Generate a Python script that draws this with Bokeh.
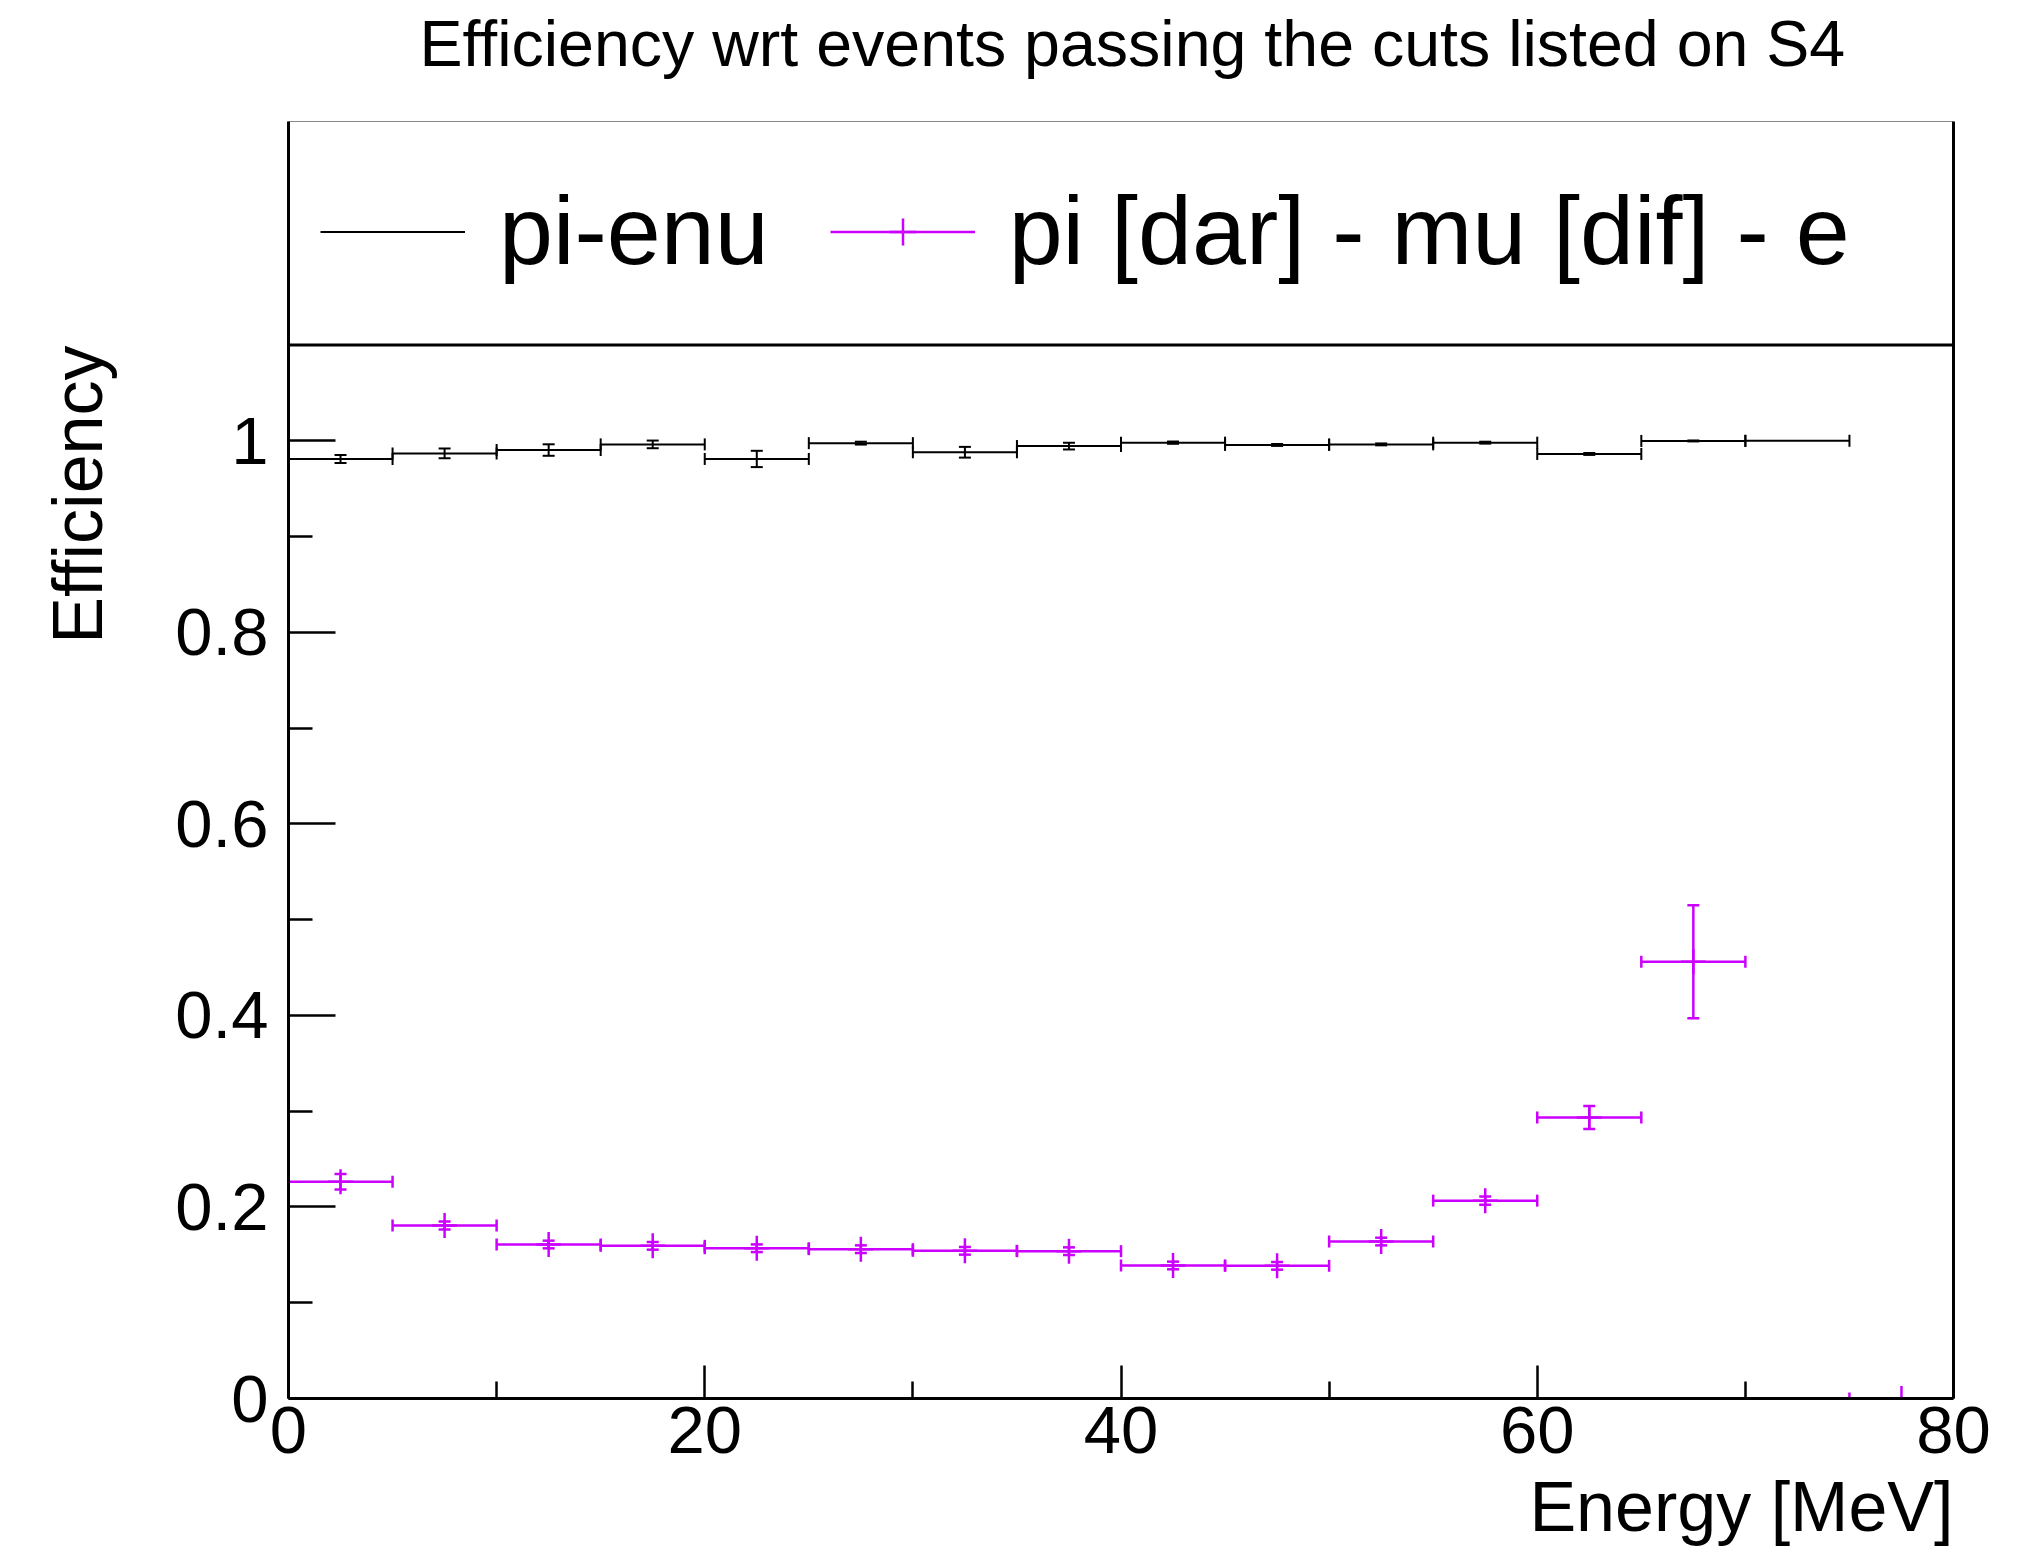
import math
import numpy as np
from bokeh.plotting import figure
from bokeh.models import (ColumnDataSource, FixedTicker, CustomJSTickFormatter, LinearAxis,
                          Span, Title, Legend, LegendItem, Range1d)
from bokeh.embed import file_html
from bokeh.resources import INLINE

# ---------------- data ----------------
bin_lo = [0, 5, 10, 15, 20, 25, 30, 35, 40, 45, 50, 55, 60, 65, 70, 75]
bin_hi = [5, 10, 15, 20, 25, 30, 35, 40, 45, 50, 55, 60, 65, 70, 75, 80]

pienu_eff = [0.981, 0.9868, 0.9903, 0.9962, 0.981, 0.9975, 0.988, 0.9944,
             0.998, 0.9956, 0.9962, 0.998, 0.9862, 0.9998, 1.0, None]
pienu_err = [0.0042, 0.005, 0.006, 0.004, 0.0085, 0.0015, 0.0056, 0.0035,
             0.0012, 0.001, 0.001, 0.001, 0.001, 0.0005, 0.0, None]

dif_eff = [0.2263, 0.1806, 0.1608, 0.1594, 0.1569, 0.1559, 0.1542, 0.1538,
           0.1389, 0.1385, 0.1639, 0.2066, 0.2934, 0.456, None, 0.0]
dif_err = [0.008, 0.0042, 0.004, 0.004, 0.004, 0.004, 0.004, 0.004,
           0.004, 0.004, 0.004, 0.0043, 0.012, 0.059, None, 0.0]

y_ticks = [0, 0.2, 0.4, 0.6, 0.8, 1.0]
y_minor = [0.1, 0.3, 0.5, 0.7, 0.9]
x_ticks = [0, 20, 40, 60, 80]
x_minor = [10, 30, 50, 70]

title_text = "Efficiency wrt events passing the cuts listed on S4"
x_title = "Energy [MeV]"
y_title = "Efficiency"
label_pienu = "pi-enu"
label_dif = "pi [dar] - mu [dif] - e"

BLACK = "#000000"
VIOLET = "#cc00ff"
FONT = "Liberation Sans"

# ---------------- figure ----------------
p = figure(width=2034, height=1556, output_backend="svg", toolbar_location=None,
           x_range=Range1d(0, 80), y_range=Range1d(0, 4.0 / 3.0),
           min_border_left=288, min_border_right=81, min_border_top=121,
           min_border_bottom=158)
p.xgrid.visible = False
p.ygrid.visible = False
p.outline_line_color = None
p.background_fill_color = "white"
p.border_fill_color = "white"
p.title.text = ""

# axes
xa = p.xaxis[0]
xa.ticker = FixedTicker(ticks=x_ticks, minor_ticks=x_minor)
xa.axis_line_width = 3
xa.axis_line_color = BLACK
xa.major_tick_in = 33
xa.major_tick_out = 0
xa.minor_tick_in = 17
xa.minor_tick_out = 0
xa.major_tick_line_width = 2.5
xa.minor_tick_line_width = 2.5
xa.major_label_text_font = FONT
xa.major_label_text_font_size = "67px"
xa.major_label_text_color = BLACK
xa.major_label_standoff = 8

ya = p.yaxis[0]
ya.ticker = FixedTicker(ticks=y_ticks, minor_ticks=y_minor)
ya.formatter = CustomJSTickFormatter(code="return String(Math.round(tick*10)/10);")
ya.axis_line_width = 3
ya.axis_line_color = BLACK
ya.major_tick_in = 47
ya.major_tick_out = 0
ya.minor_tick_in = 24
ya.minor_tick_out = 0
ya.major_tick_line_width = 2.5
ya.minor_tick_line_width = 2.5
ya.major_label_text_font = FONT
ya.major_label_text_font_size = "67px"
ya.major_label_text_color = BLACK
ya.major_label_standoff = 20

right_axis = LinearAxis(ticker=FixedTicker(ticks=[]), axis_line_width=3, axis_line_color=BLACK,
                        major_tick_in=0, major_tick_out=0, minor_tick_in=0, minor_tick_out=0)
p.add_layout(right_axis, "right")
top_axis = LinearAxis(ticker=FixedTicker(ticks=[]), axis_line_width=1.2, axis_line_color="#8a8a8a",
                      major_tick_in=0, major_tick_out=0, minor_tick_in=0, minor_tick_out=0)
p.add_layout(top_axis, "above")

# main title (a thin spacer keeps it clear of the frame)
p.add_layout(Title(text=" ", standoff=39, text_font_size="1px"), "above")
p.add_layout(Title(text=title_text, align="left", offset=131, standoff=0,
                   vertical_align="bottom", text_font=FONT, text_font_size="64.5px",
                   text_font_style="normal", text_color=BLACK), "above")

# axis titles
p.add_layout(Title(text=x_title, align="right", standoff=20, text_font=FONT,
                   text_font_size="70px", text_font_style="normal", text_color=BLACK), "below")
p.add_layout(Title(text=" ", standoff=53, text_font_size="1px"), "left")
p.add_layout(Title(text=y_title, align="right", offset=224, standoff=0,
                   vertical_align="bottom", text_font=FONT,
                   text_font_size="70px", text_font_style="normal", text_color=BLACK), "left")

# separator between legend box and frame
p.add_layout(Span(location=1.1, dimension="width", line_color=BLACK, line_width=3))


def draw_series(eff, err, color, lw, with_cross):
    lo, hi, xc, y, e = [], [], [], [], []
    for a, b, v, s in zip(bin_lo, bin_hi, eff, err):
        if v is None:
            continue
        lo.append(a); hi.append(b); xc.append(0.5 * (a + b)); y.append(v); e.append(s)
    y = np.array(y); e = np.array(e)
    src = ColumnDataSource(dict(lo=lo, hi=hi, xc=xc, y=y, ylo=y - e, yhi=y + e))
    hline = p.segment(x0="lo", y0="y", x1="hi", y1="y", source=src,
                      line_color=color, line_width=lw)
    p.segment(x0="xc", y0="ylo", x1="xc", y1="yhi", source=src,
              line_color=color, line_width=lw)
    p.scatter(x="lo", y="y", source=src, marker="dash", angle=math.pi / 2, size=12,
              line_color=color, line_width=lw)
    p.scatter(x="hi", y="y", source=src, marker="dash", angle=math.pi / 2, size=12,
              line_color=color, line_width=lw)
    mask = e > 0
    csrc = ColumnDataSource(dict(xc=np.array(xc)[mask], ylo=(y - e)[mask], yhi=(y + e)[mask]))
    p.scatter(x="xc", y="ylo", source=csrc, marker="dash", size=12,
              line_color=color, line_width=lw)
    p.scatter(x="xc", y="yhi", source=csrc, marker="dash", size=12,
              line_color=color, line_width=lw)
    rends = [hline]
    if with_cross:
        cr = p.scatter(x="xc", y="y", source=src, marker="cross", size=25,
                       line_color=color, line_width=lw)
        rends.append(cr)
    return rends


r_black = draw_series(pienu_eff, pienu_err, BLACK, 2, False)
r_violet = draw_series(dif_eff, dif_err, VIOLET, 2.5, True)

legend = Legend(items=[LegendItem(label=label_pienu, renderers=r_black),
                       LegendItem(label=label_dif, renderers=r_violet)],
                orientation="horizontal", location=(32, 1111),
                glyph_width=145, glyph_height=67, label_standoff=34, spacing=61,
                padding=0, margin=0, border_line_color=None, background_fill_alpha=0,
                label_text_font=FONT, label_text_font_size="97px", label_text_color=BLACK)
p.add_layout(legend, "center")

open("out.html", "w").write(file_html(p, INLINE))
